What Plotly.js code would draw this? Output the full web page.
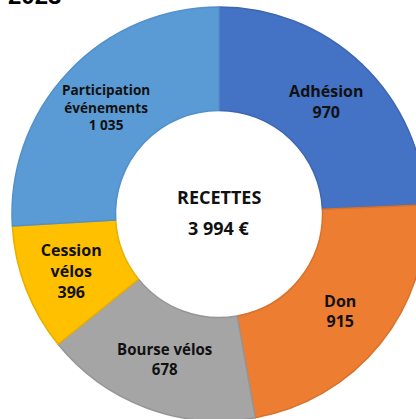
<!DOCTYPE html>
<html>
<head>
<meta charset="utf-8">
<script src="https://cdn.plot.ly/plotly-3.0.1.min.js"></script>
<style>
  html, body { margin: 0; padding: 0; background: #fff; width: 416px; height: 419px; overflow: hidden; position: relative; }
  #chart { position: absolute; left: 0; top: -30px; width: 440px; height: 460px; }
</style>
</head>
<body>
<div id="chart"></div>
<script>
const titleText = "2023";
const categories = ["Adhésion", "Don", "Bourse vélos", "Cession<br>vélos", "Participation<br>événements"];
const values = [970, 915, 678, 396, 1035];
const centerLabel = "RECETTES";
const centerValue = "3 994 €";
const colors = ["#4472C4", "#ED7D31", "#A5A5A5", "#FFC000", "#5B9BD5"];
const borderColors = ["#3E67B2", "#D8712C", "#969696", "#E8AF00", "#5190CA"];

const W = 440, H = 460;
const trace = {
  type: "pie",
  labels: categories,
  values: values,
  hole: 0.5,
  sort: false,
  direction: "clockwise",
  rotation: 0,
  marker: { colors: colors, line: { color: borderColors, width: 1.5 } },
  texttemplate: "%{label}<br>%{value:,}",
  textposition: "inside",
  insidetextorientation: "horizontal",
  textfont: { family: "'Open Sans', Lato, sans-serif", size: 16, color: "#111", weight: "bold" },
  domain: { x: [12 / W, 426 / W], y: [(H - 451) / H, (H - 37) / H] },
  hoverinfo: "none",
  showlegend: false
};

const cx = 219 / W;
const layout = {
  width: W, height: H,
  margin: { l: 0, r: 0, t: 0, b: 0 },
  paper_bgcolor: "#fff",
  separators: ", ",
  showlegend: false,
  annotations: [
    { text: "<b>" + titleText + "</b>", xref: "paper", yref: "paper", x: 6 / W, y: (H - 41) / H, xanchor: "left", yanchor: "bottom", showarrow: false,
      font: { family: "'Liberation Sans', Arial, sans-serif", size: 24, color: "#000" } },
    { text: "<b>" + centerLabel + "</b>", xref: "paper", yref: "paper", x: cx, y: (H - 227) / H, xanchor: "center", yanchor: "middle", showarrow: false,
      font: { family: "'Open Sans', Lato, sans-serif", size: 18, color: "#111" } },
    { text: "<b>" + centerValue + "</b>", xref: "paper", yref: "paper", x: cx, y: (H - 258) / H, xanchor: "center", yanchor: "middle", showarrow: false,
      font: { family: "'Open Sans', Lato, sans-serif", size: 18, color: "#111" } }
  ]
};

Plotly.newPlot("chart", [trace], layout, { displayModeBar: false, staticPlot: true });
</script>
</body>
</html>
